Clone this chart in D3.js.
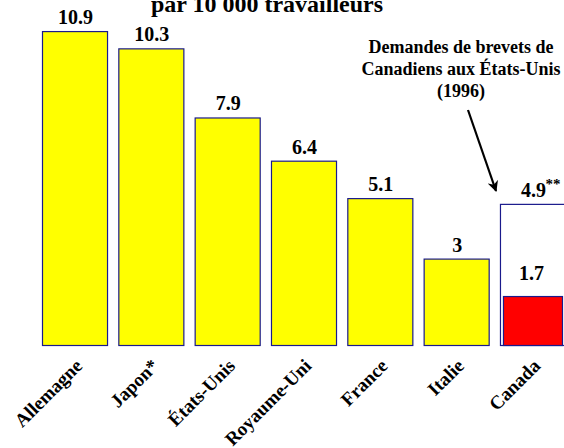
<!DOCTYPE html>
<html>
<head>
<meta charset="utf-8">
<script src="https://d3js.org/d3.v7.min.js"></script>
<style>
  body { margin: 0; background: #fff; }
  svg text { font-family: "Liberation Serif", "Times New Roman", serif; font-weight: bold; fill: #000; }
</style>
</head>
<body>
<div id="chart"></div>
<script>
// data
var categories = ["Allemagne", "Japon*", "États-Unis", "Royaume-Uni", "France", "Italie", "Canada"];
var values = [10.9, 10.3, 7.9, 6.4, 5.1, 3, 4.9];
var valueLabels = ["10.9", "10.3", "7.9", "6.4", "5.1", "3", "4.9"];
var canadaUS = [1.7];          // brevets de Canadiens aux États-Unis
var noteLines = ["Demandes de brevets de", "Canadiens aux États-Unis", "(1996)"];

var width = 564, height = 448;

var svg = d3.select("#chart").append("svg")
  .attr("width", width)
  .attr("height", height);

var x = d3.scaleBand()
  .domain(categories)
  .range([42, 565])
  .paddingInner(0.148)
  .paddingOuter(0);

var y = d3.scaleLinear()
  .domain([0, 11])
  .range([345, 28.2]);

// title (partly cut off at the top)
svg.append("text")
  .attr("x", 267)
  .attr("y", 12)
  .attr("text-anchor", "middle")
  .style("font-size", "24px")
  .text("par 10 000 travailleurs");

// bars
svg.selectAll(".bar")
  .data(values)
  .enter().append("rect")
    .attr("class", "bar")
    .attr("x", function(d, i) { return x(categories[i]) + 0.5; })
    .attr("y", function(d) { return y(d) + 0.5; })
    .attr("width", x.bandwidth())
    .attr("height", function(d) { return y(0) - y(d); })
    .attr("fill", function(d, i) { return i == categories.length - 1 ? "#ffffff" : "#ffff00"; })
    .attr("stroke", "#1a1a8c")
    .attr("stroke-width", 1.2);

// red inner bar for Canada
var last = categories[categories.length - 1];
svg.selectAll(".inner")
  .data(canadaUS)
  .enter().append("rect")
    .attr("class", "inner")
    .attr("x", x(last) + 3.5)
    .attr("y", function(d) { return y(d) + 0.5; })
    .attr("width", x.bandwidth() - 6)
    .attr("height", function(d) { return y(0) - y(d); })
    .attr("fill", "#ff0000")
    .attr("stroke", "#1a1a8c")
    .attr("stroke-width", 1.2);

// value labels
svg.selectAll(".val")
  .data(values)
  .enter().append("text")
    .attr("class", "val")
    .attr("x", function(d, i) { return x(categories[i]) + x.bandwidth() / 2 + 1; })
    .attr("y", function(d) { return y(d) - 7; })
    .attr("text-anchor", "middle")
    .style("font-size", "20px")
    .text(function(d, i) { return valueLabels[i]; });

// ** after 4.9
svg.append("text")
  .attr("x", x(last) + x.bandwidth() / 2 + 13)
  .attr("y", y(values[values.length - 1]) - 15)
  .style("font-size", "15px")
  .text("**");

svg.selectAll(".inval")
  .data(canadaUS)
  .enter().append("text")
    .attr("class", "inval")
    .attr("x", x(last) + x.bandwidth() / 2 - 1)
    .attr("y", function(d) { return y(d) - 16; })
    .attr("text-anchor", "middle")
    .style("font-size", "20px")
    .text(function(d) { return d; });

// category labels, rotated
svg.selectAll(".cat")
  .data(categories)
  .enter().append("text")
    .attr("class", "cat")
    .attr("text-anchor", "end")
    .attr("transform", function(d) {
      return "translate(" + (x(d) + x.bandwidth() / 2 + 9) + ",367) rotate(-45)";
    })
    .style("font-size", "19px")
    .text(function(d) { return d; });

// note and arrow
svg.selectAll(".note")
  .data(noteLines)
  .enter().append("text")
    .attr("class", "note")
    .attr("x", 461)
    .attr("y", function(d, i) { return 53 + i * 22; })
    .attr("text-anchor", "middle")
    .style("font-size", "18px")
    .text(function(d) { return d; });

svg.append("defs").append("marker")
  .attr("id", "head")
  .attr("viewBox", "0 0 10 10")
  .attr("refX", 9).attr("refY", 5)
  .attr("markerWidth", 5).attr("markerHeight", 5)
  .attr("orient", "auto")
  .append("path")
    .attr("d", "M0,0 L10,5 L0,10 L3,5 Z")
    .attr("fill", "#000");

svg.append("line")
  .attr("x1", 468).attr("y1", 110)
  .attr("x2", 496).attr("y2", 191)
  .attr("stroke", "#000")
  .attr("stroke-width", 2.2)
  .attr("marker-end", "url(#head)");
</script>
</body>
</html>
